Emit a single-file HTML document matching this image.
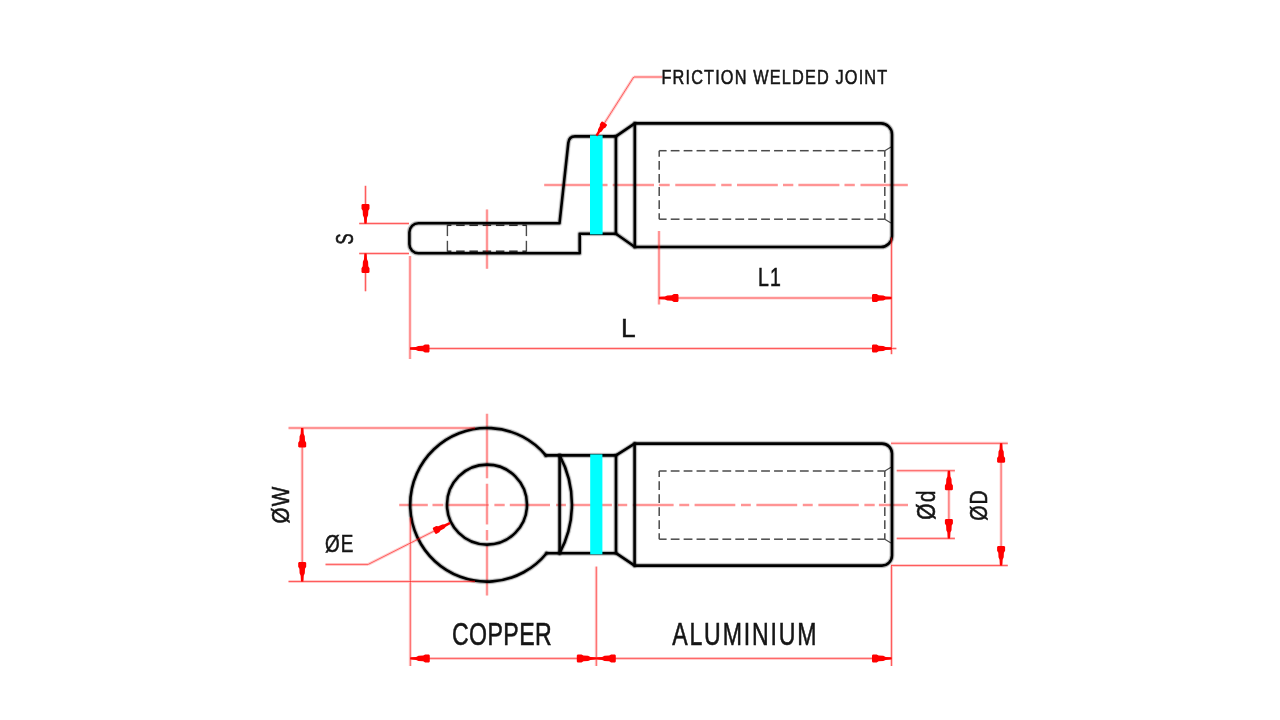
<!DOCTYPE html>
<html><head><meta charset="utf-8"><style>
html,body{margin:0;padding:0;background:#fff;width:1280px;height:720px;overflow:hidden}
svg{display:block;will-change:transform}
text{font-family:"Liberation Sans",sans-serif}
</style></head><body>
<svg width="1280" height="720" viewBox="0 0 1280 720">
<defs><g id="blk"><path d="M418.4,223.3 L559.5,223.3 L568.3,143 Q569,136.4 575,136.4 L615.9,136.4 L634.8,123.4 L881,123.4 A11,11 0 0 1 892,134.4 L892,236 A11,11 0 0 1 881,247 L634.8,247 L615.9,233.7 L579.7,233.7 L579.7,253.3 L418.4,253.3 A9,9 0 0 1 409.4,244.3 L409.4,232.3 A9,9 0 0 1 418.4,223.3Z"/>
<path d="M615.9,136.4 L615.9,233.7 M634.8,123.4 L634.8,247"/>
<path d="M545.8,455.4 A76.8,76.8 0 1 0 546.6,553.2"/>
<circle cx="487" cy="504.6" r="40"/>
<path d="M545.8,455.4 L616,455.4 L634.6,443.6 L882,443.6 A10,10 0 0 1 892,453.6 L892,555.6 A10,10 0 0 1 882,565.6 L634.6,565.6 L616,553.2 L546.6,553.2"/>
<path d="M559.6,455.4 L559.6,553.2 M616,455.4 L616,553.2 M634.6,443.6 L634.6,565.6"/>
<path d="M559.6,455.4 A103.3,103.3 0 0 1 559.6,553.2"/></g></defs>
<line x1="659.20" y1="150.70" x2="666.60" y2="150.70" stroke="#4a4a4a" stroke-width="1.5"/>
<line x1="659.20" y1="219.20" x2="666.60" y2="219.20" stroke="#4a4a4a" stroke-width="1.5"/>
<line x1="670.72" y1="150.70" x2="679.52" y2="150.70" stroke="#4a4a4a" stroke-width="1.5"/>
<line x1="670.72" y1="219.20" x2="679.52" y2="219.20" stroke="#4a4a4a" stroke-width="1.5"/>
<line x1="683.64" y1="150.70" x2="692.44" y2="150.70" stroke="#4a4a4a" stroke-width="1.5"/>
<line x1="683.64" y1="219.20" x2="692.44" y2="219.20" stroke="#4a4a4a" stroke-width="1.5"/>
<line x1="696.55" y1="150.70" x2="705.35" y2="150.70" stroke="#4a4a4a" stroke-width="1.5"/>
<line x1="696.55" y1="219.20" x2="705.35" y2="219.20" stroke="#4a4a4a" stroke-width="1.5"/>
<line x1="709.47" y1="150.70" x2="718.27" y2="150.70" stroke="#4a4a4a" stroke-width="1.5"/>
<line x1="709.47" y1="219.20" x2="718.27" y2="219.20" stroke="#4a4a4a" stroke-width="1.5"/>
<line x1="722.39" y1="150.70" x2="731.19" y2="150.70" stroke="#4a4a4a" stroke-width="1.5"/>
<line x1="722.39" y1="219.20" x2="731.19" y2="219.20" stroke="#4a4a4a" stroke-width="1.5"/>
<line x1="735.31" y1="150.70" x2="744.11" y2="150.70" stroke="#4a4a4a" stroke-width="1.5"/>
<line x1="735.31" y1="219.20" x2="744.11" y2="219.20" stroke="#4a4a4a" stroke-width="1.5"/>
<line x1="748.22" y1="150.70" x2="757.02" y2="150.70" stroke="#4a4a4a" stroke-width="1.5"/>
<line x1="748.22" y1="219.20" x2="757.02" y2="219.20" stroke="#4a4a4a" stroke-width="1.5"/>
<line x1="761.14" y1="150.70" x2="769.94" y2="150.70" stroke="#4a4a4a" stroke-width="1.5"/>
<line x1="761.14" y1="219.20" x2="769.94" y2="219.20" stroke="#4a4a4a" stroke-width="1.5"/>
<line x1="774.06" y1="150.70" x2="782.86" y2="150.70" stroke="#4a4a4a" stroke-width="1.5"/>
<line x1="774.06" y1="219.20" x2="782.86" y2="219.20" stroke="#4a4a4a" stroke-width="1.5"/>
<line x1="786.98" y1="150.70" x2="795.78" y2="150.70" stroke="#4a4a4a" stroke-width="1.5"/>
<line x1="786.98" y1="219.20" x2="795.78" y2="219.20" stroke="#4a4a4a" stroke-width="1.5"/>
<line x1="799.89" y1="150.70" x2="808.69" y2="150.70" stroke="#4a4a4a" stroke-width="1.5"/>
<line x1="799.89" y1="219.20" x2="808.69" y2="219.20" stroke="#4a4a4a" stroke-width="1.5"/>
<line x1="812.81" y1="150.70" x2="821.61" y2="150.70" stroke="#4a4a4a" stroke-width="1.5"/>
<line x1="812.81" y1="219.20" x2="821.61" y2="219.20" stroke="#4a4a4a" stroke-width="1.5"/>
<line x1="825.73" y1="150.70" x2="834.53" y2="150.70" stroke="#4a4a4a" stroke-width="1.5"/>
<line x1="825.73" y1="219.20" x2="834.53" y2="219.20" stroke="#4a4a4a" stroke-width="1.5"/>
<line x1="838.65" y1="150.70" x2="847.45" y2="150.70" stroke="#4a4a4a" stroke-width="1.5"/>
<line x1="838.65" y1="219.20" x2="847.45" y2="219.20" stroke="#4a4a4a" stroke-width="1.5"/>
<line x1="851.56" y1="150.70" x2="860.36" y2="150.70" stroke="#4a4a4a" stroke-width="1.5"/>
<line x1="851.56" y1="219.20" x2="860.36" y2="219.20" stroke="#4a4a4a" stroke-width="1.5"/>
<line x1="864.48" y1="150.70" x2="873.28" y2="150.70" stroke="#4a4a4a" stroke-width="1.5"/>
<line x1="864.48" y1="219.20" x2="873.28" y2="219.20" stroke="#4a4a4a" stroke-width="1.5"/>
<line x1="877.40" y1="150.70" x2="884.80" y2="150.70" stroke="#4a4a4a" stroke-width="1.5"/>
<line x1="877.40" y1="219.20" x2="884.80" y2="219.20" stroke="#4a4a4a" stroke-width="1.5"/>
<line x1="659.20" y1="150.70" x2="659.20" y2="156.70" stroke="#4a4a4a" stroke-width="1.5"/>
<line x1="884.80" y1="150.70" x2="884.80" y2="156.70" stroke="#4a4a4a" stroke-width="1.5"/>
<line x1="659.20" y1="160.96" x2="659.20" y2="169.76" stroke="#4a4a4a" stroke-width="1.5"/>
<line x1="884.80" y1="160.96" x2="884.80" y2="169.76" stroke="#4a4a4a" stroke-width="1.5"/>
<line x1="659.20" y1="174.02" x2="659.20" y2="182.82" stroke="#4a4a4a" stroke-width="1.5"/>
<line x1="884.80" y1="174.02" x2="884.80" y2="182.82" stroke="#4a4a4a" stroke-width="1.5"/>
<line x1="659.20" y1="187.08" x2="659.20" y2="195.88" stroke="#4a4a4a" stroke-width="1.5"/>
<line x1="884.80" y1="187.08" x2="884.80" y2="195.88" stroke="#4a4a4a" stroke-width="1.5"/>
<line x1="659.20" y1="200.14" x2="659.20" y2="208.94" stroke="#4a4a4a" stroke-width="1.5"/>
<line x1="884.80" y1="200.14" x2="884.80" y2="208.94" stroke="#4a4a4a" stroke-width="1.5"/>
<line x1="659.20" y1="213.20" x2="659.20" y2="219.20" stroke="#4a4a4a" stroke-width="1.5"/>
<line x1="884.80" y1="213.20" x2="884.80" y2="219.20" stroke="#4a4a4a" stroke-width="1.5"/>
<line x1="884.80" y1="150.70" x2="891.00" y2="147.00" stroke="#4a4a4a" stroke-width="1.2"/>
<line x1="884.80" y1="219.20" x2="891.00" y2="222.90" stroke="#4a4a4a" stroke-width="1.2"/>
<line x1="447.40" y1="224.80" x2="447.40" y2="236.10" stroke="#4a4a4a" stroke-width="1.4"/>
<line x1="447.40" y1="240.80" x2="447.40" y2="251.70" stroke="#4a4a4a" stroke-width="1.4"/>
<line x1="526.40" y1="224.80" x2="526.40" y2="236.10" stroke="#4a4a4a" stroke-width="1.4"/>
<line x1="526.40" y1="240.80" x2="526.40" y2="251.70" stroke="#4a4a4a" stroke-width="1.4"/>
<line x1="447.40" y1="225.30" x2="451.40" y2="225.30" stroke="#333" stroke-width="1.5"/>
<line x1="456.15" y1="225.30" x2="464.65" y2="225.30" stroke="#333" stroke-width="1.5"/>
<line x1="469.40" y1="225.30" x2="477.90" y2="225.30" stroke="#333" stroke-width="1.5"/>
<line x1="482.65" y1="225.30" x2="491.15" y2="225.30" stroke="#333" stroke-width="1.5"/>
<line x1="495.90" y1="225.30" x2="504.40" y2="225.30" stroke="#333" stroke-width="1.5"/>
<line x1="509.15" y1="225.30" x2="517.65" y2="225.30" stroke="#333" stroke-width="1.5"/>
<line x1="522.40" y1="225.30" x2="526.40" y2="225.30" stroke="#333" stroke-width="1.5"/>
<line x1="447.40" y1="251.20" x2="451.40" y2="251.20" stroke="#333" stroke-width="1.5"/>
<line x1="456.15" y1="251.20" x2="464.65" y2="251.20" stroke="#333" stroke-width="1.5"/>
<line x1="469.40" y1="251.20" x2="477.90" y2="251.20" stroke="#333" stroke-width="1.5"/>
<line x1="482.65" y1="251.20" x2="491.15" y2="251.20" stroke="#333" stroke-width="1.5"/>
<line x1="495.90" y1="251.20" x2="504.40" y2="251.20" stroke="#333" stroke-width="1.5"/>
<line x1="509.15" y1="251.20" x2="517.65" y2="251.20" stroke="#333" stroke-width="1.5"/>
<line x1="522.40" y1="251.20" x2="526.40" y2="251.20" stroke="#333" stroke-width="1.5"/>
<line x1="659.20" y1="471.00" x2="666.60" y2="471.00" stroke="#4a4a4a" stroke-width="1.5"/>
<line x1="659.20" y1="539.20" x2="666.60" y2="539.20" stroke="#4a4a4a" stroke-width="1.5"/>
<line x1="670.72" y1="471.00" x2="679.52" y2="471.00" stroke="#4a4a4a" stroke-width="1.5"/>
<line x1="670.72" y1="539.20" x2="679.52" y2="539.20" stroke="#4a4a4a" stroke-width="1.5"/>
<line x1="683.64" y1="471.00" x2="692.44" y2="471.00" stroke="#4a4a4a" stroke-width="1.5"/>
<line x1="683.64" y1="539.20" x2="692.44" y2="539.20" stroke="#4a4a4a" stroke-width="1.5"/>
<line x1="696.55" y1="471.00" x2="705.35" y2="471.00" stroke="#4a4a4a" stroke-width="1.5"/>
<line x1="696.55" y1="539.20" x2="705.35" y2="539.20" stroke="#4a4a4a" stroke-width="1.5"/>
<line x1="709.47" y1="471.00" x2="718.27" y2="471.00" stroke="#4a4a4a" stroke-width="1.5"/>
<line x1="709.47" y1="539.20" x2="718.27" y2="539.20" stroke="#4a4a4a" stroke-width="1.5"/>
<line x1="722.39" y1="471.00" x2="731.19" y2="471.00" stroke="#4a4a4a" stroke-width="1.5"/>
<line x1="722.39" y1="539.20" x2="731.19" y2="539.20" stroke="#4a4a4a" stroke-width="1.5"/>
<line x1="735.31" y1="471.00" x2="744.11" y2="471.00" stroke="#4a4a4a" stroke-width="1.5"/>
<line x1="735.31" y1="539.20" x2="744.11" y2="539.20" stroke="#4a4a4a" stroke-width="1.5"/>
<line x1="748.22" y1="471.00" x2="757.02" y2="471.00" stroke="#4a4a4a" stroke-width="1.5"/>
<line x1="748.22" y1="539.20" x2="757.02" y2="539.20" stroke="#4a4a4a" stroke-width="1.5"/>
<line x1="761.14" y1="471.00" x2="769.94" y2="471.00" stroke="#4a4a4a" stroke-width="1.5"/>
<line x1="761.14" y1="539.20" x2="769.94" y2="539.20" stroke="#4a4a4a" stroke-width="1.5"/>
<line x1="774.06" y1="471.00" x2="782.86" y2="471.00" stroke="#4a4a4a" stroke-width="1.5"/>
<line x1="774.06" y1="539.20" x2="782.86" y2="539.20" stroke="#4a4a4a" stroke-width="1.5"/>
<line x1="786.98" y1="471.00" x2="795.78" y2="471.00" stroke="#4a4a4a" stroke-width="1.5"/>
<line x1="786.98" y1="539.20" x2="795.78" y2="539.20" stroke="#4a4a4a" stroke-width="1.5"/>
<line x1="799.89" y1="471.00" x2="808.69" y2="471.00" stroke="#4a4a4a" stroke-width="1.5"/>
<line x1="799.89" y1="539.20" x2="808.69" y2="539.20" stroke="#4a4a4a" stroke-width="1.5"/>
<line x1="812.81" y1="471.00" x2="821.61" y2="471.00" stroke="#4a4a4a" stroke-width="1.5"/>
<line x1="812.81" y1="539.20" x2="821.61" y2="539.20" stroke="#4a4a4a" stroke-width="1.5"/>
<line x1="825.73" y1="471.00" x2="834.53" y2="471.00" stroke="#4a4a4a" stroke-width="1.5"/>
<line x1="825.73" y1="539.20" x2="834.53" y2="539.20" stroke="#4a4a4a" stroke-width="1.5"/>
<line x1="838.65" y1="471.00" x2="847.45" y2="471.00" stroke="#4a4a4a" stroke-width="1.5"/>
<line x1="838.65" y1="539.20" x2="847.45" y2="539.20" stroke="#4a4a4a" stroke-width="1.5"/>
<line x1="851.56" y1="471.00" x2="860.36" y2="471.00" stroke="#4a4a4a" stroke-width="1.5"/>
<line x1="851.56" y1="539.20" x2="860.36" y2="539.20" stroke="#4a4a4a" stroke-width="1.5"/>
<line x1="864.48" y1="471.00" x2="873.28" y2="471.00" stroke="#4a4a4a" stroke-width="1.5"/>
<line x1="864.48" y1="539.20" x2="873.28" y2="539.20" stroke="#4a4a4a" stroke-width="1.5"/>
<line x1="877.40" y1="471.00" x2="884.80" y2="471.00" stroke="#4a4a4a" stroke-width="1.5"/>
<line x1="877.40" y1="539.20" x2="884.80" y2="539.20" stroke="#4a4a4a" stroke-width="1.5"/>
<line x1="659.20" y1="471.00" x2="659.20" y2="477.00" stroke="#4a4a4a" stroke-width="1.5"/>
<line x1="884.80" y1="471.00" x2="884.80" y2="477.00" stroke="#4a4a4a" stroke-width="1.5"/>
<line x1="659.20" y1="481.20" x2="659.20" y2="490.00" stroke="#4a4a4a" stroke-width="1.5"/>
<line x1="884.80" y1="481.20" x2="884.80" y2="490.00" stroke="#4a4a4a" stroke-width="1.5"/>
<line x1="659.20" y1="494.20" x2="659.20" y2="503.00" stroke="#4a4a4a" stroke-width="1.5"/>
<line x1="884.80" y1="494.20" x2="884.80" y2="503.00" stroke="#4a4a4a" stroke-width="1.5"/>
<line x1="659.20" y1="507.20" x2="659.20" y2="516.00" stroke="#4a4a4a" stroke-width="1.5"/>
<line x1="884.80" y1="507.20" x2="884.80" y2="516.00" stroke="#4a4a4a" stroke-width="1.5"/>
<line x1="659.20" y1="520.20" x2="659.20" y2="529.00" stroke="#4a4a4a" stroke-width="1.5"/>
<line x1="884.80" y1="520.20" x2="884.80" y2="529.00" stroke="#4a4a4a" stroke-width="1.5"/>
<line x1="659.20" y1="533.20" x2="659.20" y2="539.20" stroke="#4a4a4a" stroke-width="1.5"/>
<line x1="884.80" y1="533.20" x2="884.80" y2="539.20" stroke="#4a4a4a" stroke-width="1.5"/>
<line x1="884.80" y1="471.00" x2="891.00" y2="467.30" stroke="#4a4a4a" stroke-width="1.2"/>
<line x1="884.80" y1="539.20" x2="891.00" y2="542.90" stroke="#4a4a4a" stroke-width="1.2"/>
<path d="M544.20,185.00L607.50,185.00M612.70,185.00L654.00,185.00M658.90,185.00L669.70,185.00M675.30,185.00L715.60,185.00M721.25,185.00L731.60,185.00M737.00,185.00L777.80,185.00M783.00,185.00L793.30,185.00M798.40,185.00L839.40,185.00M844.50,185.00L854.80,185.00M860.50,185.00L907.80,185.00M487.00,209.40L487.00,268.80M399.20,505.00L427.80,505.00M432.50,505.00L443.30,505.00M447.50,505.00L488.75,505.00M494.40,505.00L504.70,505.00M509.80,505.00L550.00,505.00M556.10,505.00L565.90,505.00M572.00,505.00L611.90,505.00M618.00,505.00L627.20,505.00M632.80,505.00L673.60,505.00M679.30,505.00L689.20,505.00M694.60,505.00L735.30,505.00M741.00,505.00L750.80,505.00M756.40,505.00L797.20,505.00M802.80,505.00L812.70,505.00M818.40,505.00L858.75,505.00M864.40,505.00L874.70,505.00M878.90,505.00L908.00,505.00M487.00,413.75L487.00,478.30M487.00,483.75L487.00,524.40M487.00,530.00L487.00,540.50M487.00,545.50L487.00,595.50" fill="none" stroke="#ff0000" stroke-width="3" stroke-opacity="0.2"/>
<path d="M544.20,185.00L607.50,185.00M612.70,185.00L654.00,185.00M658.90,185.00L669.70,185.00M675.30,185.00L715.60,185.00M721.25,185.00L731.60,185.00M737.00,185.00L777.80,185.00M783.00,185.00L793.30,185.00M798.40,185.00L839.40,185.00M844.50,185.00L854.80,185.00M860.50,185.00L907.80,185.00M487.00,209.40L487.00,268.80M399.20,505.00L427.80,505.00M432.50,505.00L443.30,505.00M447.50,505.00L488.75,505.00M494.40,505.00L504.70,505.00M509.80,505.00L550.00,505.00M556.10,505.00L565.90,505.00M572.00,505.00L611.90,505.00M618.00,505.00L627.20,505.00M632.80,505.00L673.60,505.00M679.30,505.00L689.20,505.00M694.60,505.00L735.30,505.00M741.00,505.00L750.80,505.00M756.40,505.00L797.20,505.00M802.80,505.00L812.70,505.00M818.40,505.00L858.75,505.00M864.40,505.00L874.70,505.00M878.90,505.00L908.00,505.00M487.00,413.75L487.00,478.30M487.00,483.75L487.00,524.40M487.00,530.00L487.00,540.50M487.00,545.50L487.00,595.50" fill="none" stroke="#ff0000" stroke-width="1" stroke-opacity="0.55"/>
<use href="#blk" fill="none" stroke="#000" stroke-width="6.2" stroke-opacity="0.05" stroke-linejoin="round" stroke-linecap="round"/>
<use href="#blk" fill="none" stroke="#000" stroke-width="4.6" stroke-opacity="0.25" stroke-linejoin="round" stroke-linecap="round"/>
<use href="#blk" fill="none" stroke="#000" stroke-width="2.6" stroke-opacity="1.0" stroke-linejoin="round" stroke-linecap="round"/>
<rect x="590.0" y="135.4" width="12.6" height="99.0" fill="#00ffff"/>
<rect x="590.2" y="454.4" width="12.2" height="99.9" fill="#00ffff"/>
<path d="M359.20,223.50L409.00,223.50M359.20,253.50L409.00,253.50M365.50,185.80L365.50,223.50M365.50,253.50L365.50,291.30M659.00,231.00L659.00,304.50M891.50,237.50L891.50,354.20M659.00,298.00L891.50,298.00M410.00,256.00L410.00,359.00M410.00,348.50L896.40,348.50M633.75,77.00L662.50,77.00M633.75,77.00L596.50,135.60M288.50,428.00L475.00,428.00M288.50,581.50L475.00,581.50M302.20,428.00L302.20,581.50M325.50,564.40L368.20,564.40M368.20,564.40L450.00,523.00M891.00,443.30L1007.80,443.30M891.00,565.50L1007.80,565.50M1001.10,443.30L1001.10,565.50M896.70,470.70L954.90,470.70M896.70,538.40L954.90,538.40M948.90,470.70L948.90,538.40M410.30,517.50L410.30,666.00M596.30,566.60L596.30,666.00M891.50,565.50L891.50,666.00M410.30,658.40L891.50,658.40" fill="none" stroke="#ff0000" stroke-width="3" stroke-opacity="0.2"/>
<path d="M359.20,223.50L409.00,223.50M359.20,253.50L409.00,253.50M365.50,185.80L365.50,223.50M365.50,253.50L365.50,291.30M659.00,231.00L659.00,304.50M891.50,237.50L891.50,354.20M659.00,298.00L891.50,298.00M410.00,256.00L410.00,359.00M410.00,348.50L896.40,348.50M633.75,77.00L662.50,77.00M633.75,77.00L596.50,135.60M288.50,428.00L475.00,428.00M288.50,581.50L475.00,581.50M302.20,428.00L302.20,581.50M325.50,564.40L368.20,564.40M368.20,564.40L450.00,523.00M891.00,443.30L1007.80,443.30M891.00,565.50L1007.80,565.50M1001.10,443.30L1001.10,565.50M896.70,470.70L954.90,470.70M896.70,538.40L954.90,538.40M948.90,470.70L948.90,538.40M410.30,517.50L410.30,666.00M596.30,566.60L596.30,666.00M891.50,565.50L891.50,666.00M410.30,658.40L891.50,658.40" fill="none" stroke="#ff0000" stroke-width="1" stroke-opacity="0.55"/>
<polygon points="364.30,223.50 363.98,217.65 362.90,215.31 362.70,210.63 361.50,208.68 361.50,204.78 362.50,204.00 368.50,204.00 369.50,204.78 369.50,208.68 368.30,210.63 368.10,215.31 367.02,217.65 366.70,223.50" fill="#ff0000"/>
<polygon points="366.70,253.50 367.02,259.35 368.10,261.69 368.30,266.37 369.50,268.32 369.50,272.22 368.50,273.00 362.50,273.00 361.50,272.22 361.50,268.32 362.70,266.37 362.90,261.69 363.98,259.35 364.30,253.50" fill="#ff0000"/>
<polygon points="659.00,296.80 664.85,296.48 667.19,295.40 671.87,295.20 673.82,294.00 677.72,294.00 678.50,295.00 678.50,301.00 677.72,302.00 673.82,302.00 671.87,300.80 667.19,300.60 664.85,299.52 659.00,299.20" fill="#ff0000"/>
<polygon points="891.50,299.20 885.65,299.52 883.31,300.60 878.63,300.80 876.68,302.00 872.78,302.00 872.00,301.00 872.00,295.00 872.78,294.00 876.68,294.00 878.63,295.20 883.31,295.40 885.65,296.48 891.50,296.80" fill="#ff0000"/>
<polygon points="410.00,347.30 415.85,346.98 418.19,345.90 422.87,345.70 424.82,344.50 428.72,344.50 429.50,345.50 429.50,351.50 428.72,352.50 424.82,352.50 422.87,351.30 418.19,351.10 415.85,350.02 410.00,349.70" fill="#ff0000"/>
<polygon points="891.50,349.70 885.65,350.02 883.31,351.10 878.63,351.30 876.68,352.50 872.78,352.50 872.00,351.50 872.00,345.50 872.78,344.50 876.68,344.50 878.63,345.70 883.31,345.90 885.65,346.98 891.50,347.30" fill="#ff0000"/>
<polygon points="595.66,135.07 597.86,131.13 598.07,129.13 599.86,126.01 599.83,124.21 601.44,121.68 602.46,121.61 606.64,124.27 607.01,125.22 605.40,127.75 603.76,128.48 601.69,131.43 599.97,132.48 597.34,136.13" fill="#ff0000"/>
<polygon points="303.40,428.00 303.72,433.85 304.80,436.19 305.00,440.87 306.20,442.82 306.20,446.72 305.20,447.50 299.20,447.50 298.20,446.72 298.20,442.82 299.40,440.87 299.60,436.19 300.68,433.85 301.00,428.00" fill="#ff0000"/>
<polygon points="301.00,581.50 300.68,575.65 299.60,573.31 299.40,568.63 298.20,566.68 298.20,562.78 299.20,562.00 305.20,562.00 306.20,562.78 306.20,566.68 305.00,568.63 304.80,573.31 303.72,575.65 303.40,581.50" fill="#ff0000"/>
<polygon points="450.47,523.94 445.78,526.63 444.28,528.44 440.51,530.55 439.37,532.30 436.16,533.93 435.13,533.47 432.75,528.79 433.00,527.68 436.21,526.05 438.29,526.18 442.23,524.38 444.58,524.25 449.53,522.06" fill="#ff0000"/>
<polygon points="1002.30,443.30 1002.62,449.15 1003.70,451.49 1003.90,456.17 1005.10,458.12 1005.10,462.02 1004.10,462.80 998.10,462.80 997.10,462.02 997.10,458.12 998.30,456.17 998.50,451.49 999.58,449.15 999.90,443.30" fill="#ff0000"/>
<polygon points="999.90,565.50 999.58,559.65 998.50,557.31 998.30,552.63 997.10,550.68 997.10,546.78 998.10,546.00 1004.10,546.00 1005.10,546.78 1005.10,550.68 1003.90,552.63 1003.70,557.31 1002.62,559.65 1002.30,565.50" fill="#ff0000"/>
<polygon points="950.10,470.70 950.42,476.55 951.50,478.89 951.70,483.57 952.90,485.52 952.90,489.42 951.90,490.20 945.90,490.20 944.90,489.42 944.90,485.52 946.10,483.57 946.30,478.89 947.38,476.55 947.70,470.70" fill="#ff0000"/>
<polygon points="947.70,538.40 947.38,532.55 946.30,530.21 946.10,525.53 944.90,523.58 944.90,519.68 945.90,518.90 951.90,518.90 952.90,519.68 952.90,523.58 951.70,525.53 951.50,530.21 950.42,532.55 950.10,538.40" fill="#ff0000"/>
<polygon points="410.30,657.20 416.15,656.88 418.49,655.80 423.17,655.60 425.12,654.40 429.02,654.40 429.80,655.40 429.80,661.40 429.02,662.40 425.12,662.40 423.17,661.20 418.49,661.00 416.15,659.92 410.30,659.60" fill="#ff0000"/>
<polygon points="596.30,659.60 590.45,659.92 588.11,661.00 583.43,661.20 581.48,662.40 577.58,662.40 576.80,661.40 576.80,655.40 577.58,654.40 581.48,654.40 583.43,655.60 588.11,655.80 590.45,656.88 596.30,657.20" fill="#ff0000"/>
<polygon points="596.30,657.20 602.15,656.88 604.49,655.80 609.17,655.60 611.12,654.40 615.02,654.40 615.80,655.40 615.80,661.40 615.02,662.40 611.12,662.40 609.17,661.20 604.49,661.00 602.15,659.92 596.30,659.60" fill="#ff0000"/>
<polygon points="891.50,659.60 885.65,659.92 883.31,661.00 878.63,661.20 876.68,662.40 872.78,662.40 872.00,661.40 872.00,655.40 872.78,654.40 876.68,654.40 878.63,655.60 883.31,655.80 885.65,656.88 891.50,657.20" fill="#ff0000"/>
<text x="0" y="0" font-size="100" fill="#151515" stroke="#151515" stroke-width="2.412" transform="translate(352.602,244.583) rotate(-90) scale(0.16667,0.24789)">S</text>
<text x="0" y="0" font-size="100" letter-spacing="6" fill="#151515" stroke="#151515" stroke-width="2.221" transform="translate(757.888,286.150) scale(0.19519,0.25507)">L1</text>
<text x="0" y="0" font-size="100" fill="#151515" stroke="#151515" stroke-width="1.922" transform="translate(621.041,336.750) scale(0.26364,0.25652)">L</text>
<text x="0" y="0" font-size="100" letter-spacing="7" fill="#151515" stroke="#151515" stroke-width="2.701" transform="translate(661.445,84.343) scale(0.16317,0.20704)">FRICTION WELDED JOINT</text>
<text x="0" y="0" font-size="100" letter-spacing="6" fill="#151515" stroke="#151515" stroke-width="2.251" transform="translate(289.274,523.575) rotate(-90) scale(0.20632,0.23784)">ØW</text>
<text x="0" y="0" font-size="100" letter-spacing="6" fill="#151515" stroke="#151515" stroke-width="2.315" transform="translate(324.995,552.364) scale(0.18873,0.24324)">ØE</text>
<text x="0" y="0" font-size="100" letter-spacing="6" fill="#151515" stroke="#151515" stroke-width="2.295" transform="translate(987.369,520.831) rotate(-90) scale(0.19524,0.24054)">ØD</text>
<text x="0" y="0" font-size="100" letter-spacing="6" fill="#151515" stroke="#151515" stroke-width="2.180" transform="translate(934.551,519.787) rotate(-90) scale(0.20930,0.24933)">Ød</text>
<text x="0" y="0" font-size="100" letter-spacing="2" fill="#151515" stroke="#151515" stroke-width="1.839" transform="translate(451.895,644.737) scale(0.23104,0.31268)">COPPER</text>
<text x="0" y="0" font-size="100" letter-spacing="8" fill="#151515" stroke="#151515" stroke-width="1.824" transform="translate(672.150,644.733) scale(0.23112,0.31714)">ALUMINIUM</text>
</svg>
</body></html>
